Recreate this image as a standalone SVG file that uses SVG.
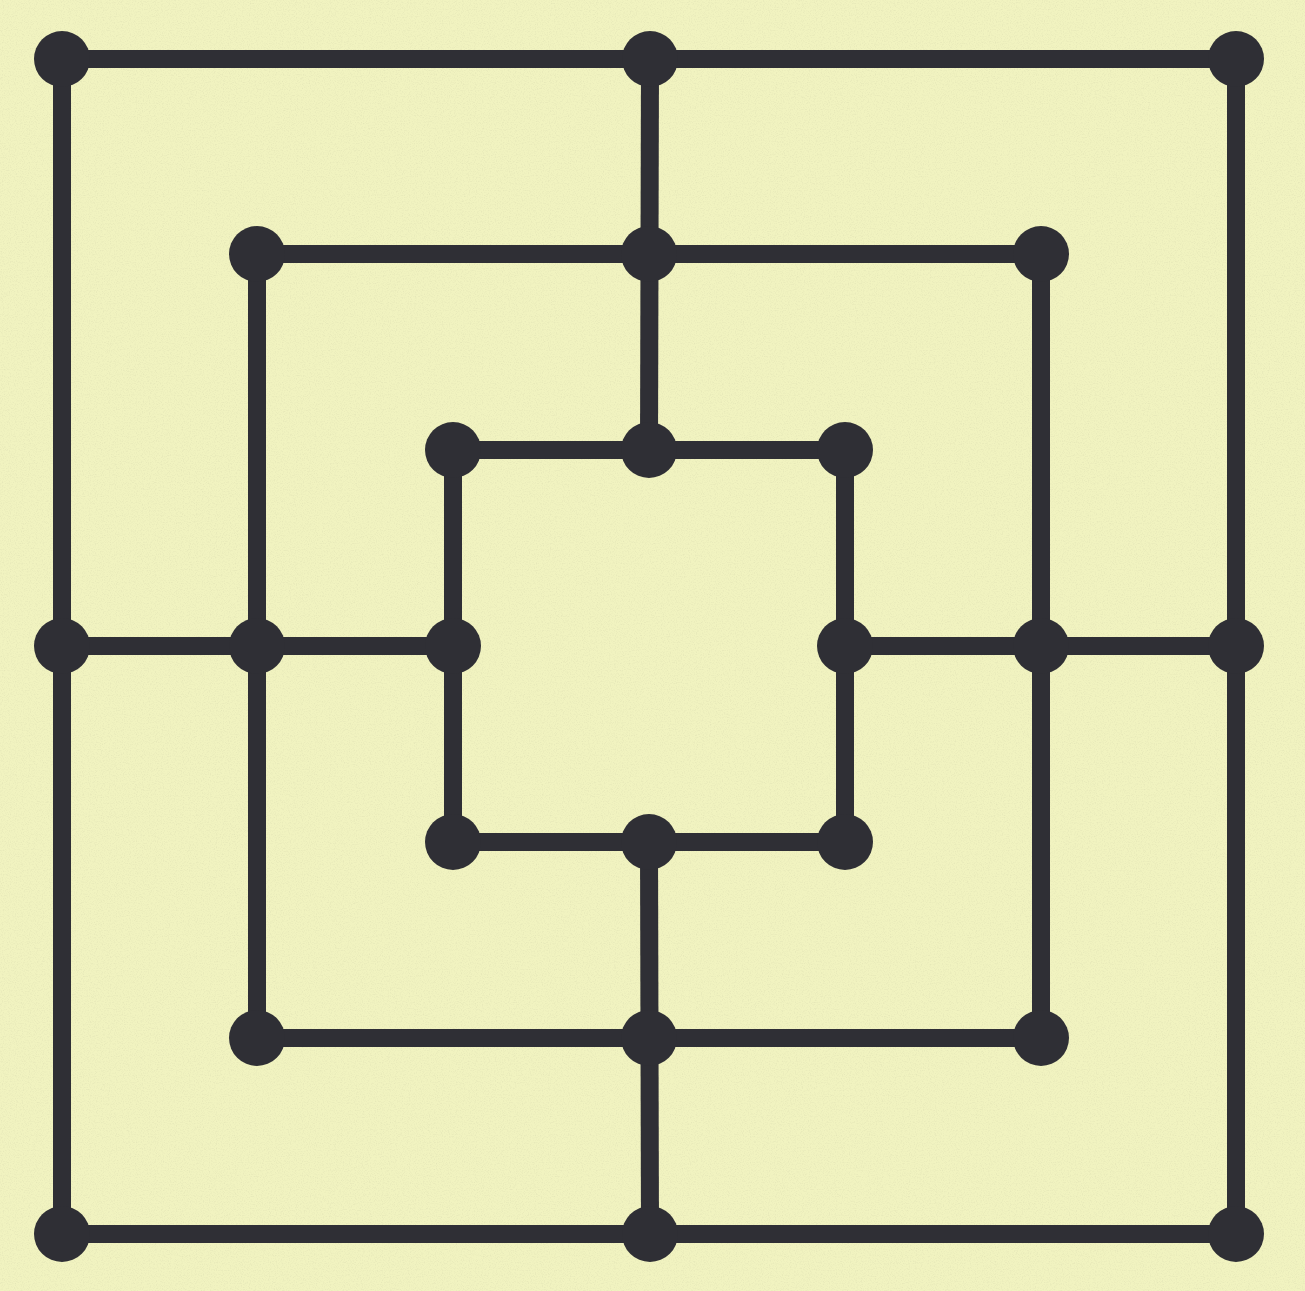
<svg xmlns="http://www.w3.org/2000/svg" width="1305" height="1291" viewBox="0 0 1305 1291">
<defs>
<style>
.ln{stroke:#2f2f35;stroke-width:18;fill:none;stroke-linecap:butt}
.pt{fill:#2f2f35}
</style>
<filter id="noise" x="0" y="0" width="100%" height="100%">
<feTurbulence type="fractalNoise" baseFrequency="0.85" numOctaves="2" seed="3" result="t"/>
<feColorMatrix type="matrix" values="0 0 0 0 0.45  0 0 0 0 0.45  0 0 0 0 0.3  0 0 0 -1.4 0.75"/>
</filter>
</defs>
<rect width="1305" height="1291" fill="#f1f3c0"/>
<rect width="1305" height="1291" filter="url(#noise)" opacity="0.3"/>
<g id="connectors">
<rect class="ln" x="62" y="59" width="1174" height="1175"/>
<rect class="ln" x="257" y="254" width="784" height="784"/>
<rect class="ln" x="453" y="450" width="392" height="392"/>
<line class="ln" x1="650" y1="59" x2="649" y2="450"/>
<line class="ln" x1="649" y1="842" x2="650" y2="1234"/>
<line class="ln" x1="62" y1="646" x2="453" y2="646"/>
<line class="ln" x1="845" y1="646" x2="1236" y2="646"/>
</g>
<g id="n-o-tl"><circle class="pt" cx="62" cy="59" r="28"/></g>
<g id="n-o-tm"><circle class="pt" cx="650" cy="59" r="28"/></g>
<g id="n-o-tr"><circle class="pt" cx="1236" cy="59" r="28"/></g>
<g id="n-o-ml"><circle class="pt" cx="62" cy="646" r="28"/></g>
<g id="n-o-mr"><circle class="pt" cx="1236" cy="646" r="28"/></g>
<g id="n-o-bl"><circle class="pt" cx="62" cy="1234" r="28"/></g>
<g id="n-o-bm"><circle class="pt" cx="650" cy="1234" r="28"/></g>
<g id="n-o-br"><circle class="pt" cx="1236" cy="1234" r="28"/></g>
<g id="n-m-tl"><circle class="pt" cx="257" cy="254" r="28"/></g>
<g id="n-m-tm"><circle class="pt" cx="649" cy="254" r="28"/></g>
<g id="n-m-tr"><circle class="pt" cx="1041" cy="254" r="28"/></g>
<g id="n-m-ml"><circle class="pt" cx="257" cy="646" r="28"/></g>
<g id="n-m-mr"><circle class="pt" cx="1041" cy="646" r="28"/></g>
<g id="n-m-bl"><circle class="pt" cx="257" cy="1038" r="28"/></g>
<g id="n-m-bm"><circle class="pt" cx="649" cy="1038" r="28"/></g>
<g id="n-m-br"><circle class="pt" cx="1041" cy="1038" r="28"/></g>
<g id="n-i-tl"><circle class="pt" cx="453" cy="450" r="28"/></g>
<g id="n-i-tm"><circle class="pt" cx="649" cy="450" r="28"/></g>
<g id="n-i-tr"><circle class="pt" cx="845" cy="450" r="28"/></g>
<g id="n-i-ml"><circle class="pt" cx="453" cy="646" r="28"/></g>
<g id="n-i-mr"><circle class="pt" cx="845" cy="646" r="28"/></g>
<g id="n-i-bl"><circle class="pt" cx="453" cy="842" r="28"/></g>
<g id="n-i-bm"><circle class="pt" cx="649" cy="842" r="28"/></g>
<g id="n-i-br"><circle class="pt" cx="845" cy="842" r="28"/></g>
</svg>
